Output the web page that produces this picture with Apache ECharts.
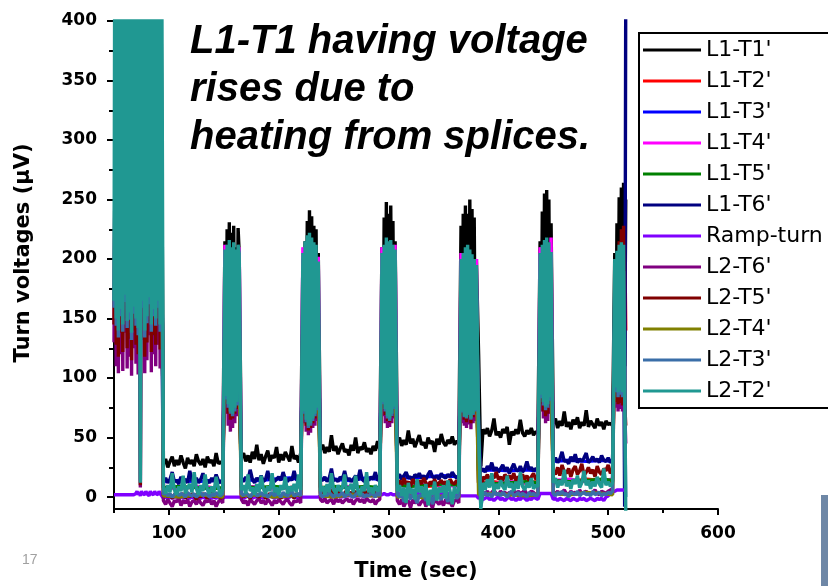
<!DOCTYPE html>
<html>
<head>
<meta charset="utf-8">
<script src="https://cdn.jsdelivr.net/npm/echarts@6/dist/echarts.min.js"></script>
<style>
html, body { margin: 0; padding: 0; background: #fff; }
#main { width: 828px; height: 586px; }
</style>
</head>
<body>
<div id="main"></div>
<script>
// sample times (sec): 1 s inside the ramp bursts, 2 s on the flat parts
const time = [
  50,51,52,53,54,55,56,57,58,59,60,61,62,63,64,65,66,67,68,69,70,71,72,73,74,75,76,77,78,79,80,81,82,83,84,85,86,87,88,89,90,91,92,93,
  95,97,99,101,103,105,107,109,111,113,115,117,119,121,123,125,127,129,131,133,135,137,139,141,143,145,147,149,
  151,152,153,154,155,156,157,158,159,160,161,162,163,164,
  166,168,170,172,174,176,178,180,182,184,186,188,190,192,194,196,198,200,202,204,206,208,210,212,214,216,218,220,
  222,223,224,225,226,227,228,229,230,231,232,233,234,235,236,
  238,240,242,244,246,248,250,252,254,256,258,260,262,264,266,268,270,272,274,276,278,280,282,284,286,288,290,292,
  294,295,296,297,298,299,300,301,302,303,304,305,306,
  308,310,312,314,316,318,320,322,324,326,328,330,332,334,336,338,340,342,344,346,348,350,352,354,356,358,360,362,364,
  366,367,368,369,370,371,372,373,374,375,376,377,378,379,380,
  382,384,386,388,390,392,394,396,398,400,402,404,406,408,410,412,414,416,418,420,422,424,426,428,430,432,434,436,
  438,439,440,441,442,443,444,445,446,447,448,
  450,452,454,456,458,460,462,464,466,468,470,472,474,476,478,480,482,484,486,488,490,492,494,496,498,500,502,504,
  506,507,508,509,510,511,512,513,514,515,516
];

// L1-T1'
const l1t1 = [
  300,300,300,300,300,300,300,300,300,300,300,300,300,300,300,300,300,300,300,300,300,300,300,300,300,300,300,300,300,300,300,300,300,300,300,300,300,300,300,300,300,300,380,400,
  28,32,25,30,34,26,31,27,35,29,24,33,28,31,26,36,30,27,32,25,34,29,31,26,37,28,30,27,
  215,100,225,95,231,100,222,95,228,100,210,95,226,205,
  33,37,30,35,29,38,32,44,31,36,28,34,39,30,35,33,42,29,36,31,38,34,30,43,32,35,29,37,
  200,110,215,105,232,110,241,100,236,105,228,110,225,105,205,
  40,44,37,42,38,52,39,43,36,41,45,38,40,35,44,39,50,37,42,40,46,38,41,36,43,39,47,40,
  210,105,235,100,248,110,238,100,245,105,232,100,215,
  46,50,43,48,44,56,45,49,42,47,52,44,46,41,50,45,47,38,49,44,53,46,43,48,45,51,44,47,46,
  228,110,238,105,245,110,238,100,250,105,242,110,235,105,200,
  120,26,57,53,58,51,56,66,52,55,50,57,54,59,44,55,52,57,53,65,54,51,56,53,58,52,55,54,
  215,110,240,105,255,110,258,100,250,110,230,
  62,66,58,64,60,72,59,63,57,65,61,67,58,63,60,73,59,64,61,58,66,60,63,57,64,61,62,60,
  205,110,230,105,252,110,260,100,264,110,250
];

// L1-T6'
const l1t6 = [
  280,280,280,280,280,280,280,280,280,280,280,280,280,280,280,280,280,280,280,280,280,280,280,280,280,280,280,280,280,280,280,280,280,280,280,280,280,280,280,280,280,280,280,280,
  13,16,12,15,21,13,14,11,17,13,15,12,22,14,13,16,12,15,20,13,14,12,16,13,19,14,12,15,
  150,150,150,150,150,150,150,150,150,150,150,150,150,150,
  15,13,17,14,23,15,12,16,14,18,13,15,22,14,16,13,15,17,14,21,15,13,16,14,22,15,13,16,
  150,150,150,150,150,150,150,150,150,150,150,150,150,150,150,
  15,14,17,13,16,24,14,15,13,17,15,22,14,16,13,15,18,14,23,15,13,16,14,17,15,21,14,15,
  150,150,150,150,150,150,150,150,150,150,150,150,150,
  17,19,15,18,21,16,17,14,19,17,20,16,18,15,19,22,17,16,18,15,20,17,16,19,17,21,18,16,17,
  150,150,150,150,150,150,150,150,150,150,150,150,150,150,150,
  60,22,24,21,26,23,29,22,25,21,24,27,22,25,20,24,28,23,22,26,21,24,30,23,25,22,24,23,
  150,150,150,150,150,150,150,150,150,150,150,
  30,33,29,32,38,30,31,28,34,30,36,29,32,30,33,37,29,31,34,30,32,29,35,31,30,33,29,31,
  150,150,150,150,150,150,150,150,150,-8,430
];

// Ramp-turn
const rampTurn = [
  2,2,2,2,2,2,2,2,2,2,2,2,2,2,2,2,2,2,2,2,3,5,2,4,1,5,3,4,2,5,3,4,1,5,3,4,2,5,3,4,2,5,3,2,
  -1,0,-1,0,-1,0,0,-1,0,-1,0,0,-1,0,-1,0,0,-1,0,-1,0,0,-1,0,-1,0,0,-1,
  0,0,0,0,0,0,0,0,0,0,0,0,0,0,
  0,-1,0,1,0,-1,0,0,1,0,-1,0,0,1,0,-1,0,0,1,0,0,-1,0,1,0,0,-1,0,
  0,1,0,1,0,1,0,1,0,1,0,1,0,1,0,
  1,0,1,2,1,0,1,1,2,1,0,1,2,1,1,0,1,2,1,1,0,1,2,1,1,2,1,2,
  2,2,3,2,2,3,2,2,3,2,2,3,2,
  2,3,1,3,2,4,1,3,2,4,2,3,1,4,2,3,1,4,2,3,2,4,1,3,2,3,1,2,2,
  1,2,1,2,1,2,1,2,1,2,1,2,1,2,1,
  -1,0,-2,-1,0,-2,-1,-3,-1,0,-2,-1,-3,-1,0,-2,-1,-3,-1,-2,0,-1,-3,-1,-2,0,-1,-2,
  3,4,3,4,3,4,3,4,3,4,3,
  -2,-1,-3,-1,-2,-3,-1,-2,-3,-1,-2,-3,-1,-2,-1,-3,-2,-1,-2,-3,-1,-2,-1,-3,0,1,3,4,
  5,5,6,5,6,5,6,5,6,5,6
];

// L2-T6'
const l2t6 = [
  130,300,110,300,104,300,120,300,106,300,138,300,108,300,118,300,102,300,125,300,112,300,103,300,8,300,132,300,104,300,115,300,136,300,105,300,120,300,110,300,128,300,108,300,
  -3,-6,-2,-5,-8,-3,-4,-1,-7,-3,-5,-2,-8,-4,-3,-6,-2,-5,-7,-3,-4,-2,-6,-3,-8,-4,-2,-5,
  150,70,160,60,170,55,165,58,170,62,160,68,165,150,
  -2,-5,-3,-7,-2,-4,-6,-3,-1,-5,-3,-6,-2,-4,-7,-3,-5,-2,-4,-6,-3,-2,-5,-7,-3,-4,-2,-5,
  150,62,160,55,165,52,170,54,165,58,160,60,160,64,150,
  -2,-4,-1,-5,-3,-2,-6,-1,-4,-2,-5,-3,-1,-4,-2,-6,-3,-1,-4,-2,-5,-1,-3,-4,-2,-6,-3,-2,
  150,68,160,62,165,58,170,59,165,62,160,66,150,
  -3,-6,-2,-8,-4,-3,-9,-2,-5,-3,-7,-4,-2,-8,-3,-5,-9,-2,-4,-6,-3,-7,-2,-5,-4,-8,-3,-2,-5,
  150,62,160,60,165,58,170,61,165,57,160,62,160,64,150,
  40,-6,4,3,5,2,4,6,3,2,5,3,4,2,4,3,6,2,5,3,4,6,2,3,5,4,2,3,
  150,72,160,66,165,62,165,64,160,70,150,
  4,3,5,2,4,6,3,2,5,3,4,2,6,3,4,5,2,3,4,6,3,2,5,4,3,5,6,7,
  150,75,160,72,165,74,165,72,160,75,45
];

// L2-T5'
const l2t5 = [
  145,300,128,300,118,300,138,300,122,300,150,300,125,300,133,300,115,300,140,300,128,300,120,300,10,300,146,300,118,300,130,300,148,300,122,300,136,300,128,300,145,300,124,300,
  1,3,0,2,-1,2,4,0,1,3,-1,2,0,3,1,-2,2,0,3,1,-1,2,4,0,1,2,-1,1,
  160,78,170,70,175,65,170,66,175,70,170,74,170,160,
  2,0,3,1,-1,2,4,1,0,3,2,-1,1,3,0,2,4,1,-1,2,0,3,1,2,-1,3,1,2,
  160,68,170,60,175,56,180,58,175,62,170,66,170,70,160,
  3,5,2,4,1,6,3,2,5,4,1,3,6,2,4,3,5,1,4,2,6,3,2,5,3,4,2,3,
  160,75,170,69,175,64,180,63,175,67,170,72,160,
  12,14,10,16,11,13,9,15,12,10,14,11,16,12,9,13,11,15,10,12,14,11,13,10,15,12,11,14,12,
  160,68,170,65,175,63,180,66,175,62,170,67,170,70,160,
  50,5,17,15,19,14,18,16,21,15,17,14,19,16,18,15,20,14,17,16,19,15,18,14,17,20,15,17,
  160,78,170,72,175,68,175,70,170,76,160,
  22,19,25,18,27,21,20,24,17,23,26,19,22,28,18,21,25,20,23,17,26,21,19,24,22,27,20,23,
  170,80,200,78,215,79,225,77,228,80,60
];

// L2-T3'
const l2t3 = [
  159,300,144,300,134,300,152,300,139,300,164,300,142,300,149,300,132,300,154,300,144,300,136,300,14,300,159,300,134,300,146,300,162,300,139,300,152,300,144,300,159,300,139,300,
  2,4,1,3,0,2,5,1,3,2,0,4,2,1,3,0,2,4,1,3,2,0,3,1,4,2,1,3,
  170,82,180,75,185,70,180,68,185,72,180,77,180,170,
  3,1,4,2,0,3,5,1,2,4,1,3,0,2,4,1,3,2,0,4,2,1,3,5,1,2,3,1,
  170,70,180,63,185,58,190,60,185,64,180,68,180,73,170,
  2,0,3,1,4,2,0,3,1,2,4,0,2,3,1,0,2,4,1,3,0,2,1,3,2,0,4,1,
  170,78,180,72,185,66,190,64,185,68,180,74,170,
  2,0,3,-4,1,2,-2,3,0,-5,2,1,3,-3,0,2,-6,1,3,0,-2,2,1,-4,3,0,2,-1,1,
  170,71,180,67,185,66,190,69,185,65,180,69,180,72,170,
  55,-8,2,4,1,3,0,5,2,3,1,4,2,0,3,5,1,2,4,1,3,2,0,4,2,3,1,2,
  170,83,180,77,185,73,185,75,180,81,170,
  3,1,4,2,5,2,3,0,4,3,2,5,1,3,4,2,3,1,5,2,3,4,1,3,2,4,3,5,
  180,88,190,84,195,86,195,84,190,88,0
];

// L2-T2'
const l2t2 = [
  165,600,150,600,140,600,158,600,145,600,170,600,148,600,155,600,138,600,160,600,150,600,142,600,12,600,165,600,140,600,152,600,168,600,145,600,158,600,150,600,165,600,145,600,
  8,3,10,4,20,6,2,9,5,18,3,8,11,4,21,7,2,10,5,19,6,3,9,4,17,8,2,6,
  208,85,212,78,216,72,210,70,214,75,208,80,212,205,
  6,10,3,19,5,8,2,11,4,18,7,3,9,5,20,4,8,2,10,6,17,3,9,5,11,4,19,6,
  205,72,215,65,220,60,222,62,218,66,214,70,212,75,198,
  5,9,2,11,4,20,6,3,10,5,8,19,3,7,11,4,18,6,2,9,5,21,4,8,3,10,5,7,
  205,80,212,74,218,68,215,66,216,70,212,76,208,
  5,10,1,8,-5,12,3,7,-2,15,4,9,0,11,-7,6,2,13,-3,8,4,10,-1,14,5,-6,9,3,7,
  200,72,205,68,210,67,212,70,208,66,204,70,200,73,195,
  60,-10,12,6,15,8,20,5,11,7,14,9,6,18,8,12,5,13,7,21,9,6,12,8,16,7,10,9,
  205,86,212,80,216,76,218,78,214,84,206,
  12,16,8,14,10,23,9,13,7,15,11,18,8,12,22,10,14,7,13,9,17,11,8,24,10,13,9,12,
  200,92,207,88,212,90,214,88,212,92,-12
];

// coarser samples for the traces that stay mostly hidden under the others
const timeCoarse = [
  50,93, 95,110,125,140,149, 151,152,163,164, 166,180,195,210,220, 222,223,235,236,
  238,250,265,280,292, 294,295,305,306, 308,320,335,350,364, 366,367,379,380,
  382,395,410,425,436, 438,439,447,448, 450,465,480,495,504, 506,507,515,516
];
const l1t2 = [300,300, 8,7,9,8,7, 150,150,150,150, 8,9,7,8,9, 150,150,150,150, 8,7,9,8,7, 150,150,150,150, 10,11,9,10,11, 150,150,150,150, 12,13,11,12,13, 150,150,150,150, 14,13,15,14,13, 150,150,225,140];
const l1t3 = [300,300, 13,14,13,14,13, 150,150,150,150, 15,14,15,16,15, 150,150,150,150, 15,15,14,16,15, 150,150,150,150, 17,16,17,18,17, 150,150,150,150, 22,23,22,23,22, 150,150,150,150, 30,31,30,31,30, 150,150,150,150];
const l1t4 = [300,300, 8,7,9,8,7, 212,150,150,210, 8,9,7,8,9, 210,150,150,202, 8,7,9,8,7, 210,150,150,212, 10,9,11,10,9, 205,150,150,200, 12,11,13,12,11, 210,150,150,218, 14,15,13,14,15, 150,150,150,150];
const l1t5 = [300,300, 8,9,8,7,8, 150,150,150,150, 9,8,9,8,9, 150,150,150,150, 8,9,8,9,8, 150,150,150,150, 10,9,10,11,10, 150,150,150,150, 12,11,12,13,12, 150,150,150,150, 14,13,14,15,14, 150,150,150,150];
const l2t4 = [300,300, 1,0,2,1,0, 150,150,150,150, 1,2,0,1,2, 150,150,150,150, 1,0,2,1,1, 150,150,150,150, 0,1,-1,1,0, 150,150,150,150, 2,3,2,1,2, 150,150,150,150, 3,2,4,3,2, 150,150,150,150];

const xMajor = [100, 200, 300, 400, 500, 600];
const xMinor = [50, 150, 250, 350, 450, 550];
const yMajor = [0, 50, 100, 150, 200, 250, 300, 350, 400];
const yMinor = [25, 75, 125, 175, 225, 275, 325, 375];

const traces = [
  ["L1-T1'", '#000000', time, l1t1],
  ["L1-T2'", '#ff0000', timeCoarse, l1t2],
  ["L1-T3'", '#0000ff', timeCoarse, l1t3],
  ["L1-T4'", '#ff00ff', timeCoarse, l1t4],
  ["L1-T5'", '#008000', timeCoarse, l1t5],
  ["L1-T6'", '#000080', time, l1t6],
  ['Ramp-turn', '#8000ff', time, rampTurn],
  ["L2-T6'", '#800080', time, l2t6],
  ["L2-T5'", '#800000', time, l2t5],
  ["L2-T4'", '#808000', timeCoarse, l2t4],
  ["L2-T3'", '#3a6ea8', time, l2t3],
  ["L2-T2'", '#209892', time, l2t2]
];
traces.forEach(t => {
  if (t[2].length !== t[3].length) throw new Error(t[0] + ': ' + t[2].length + ' times vs ' + t[3].length + ' values');
});

const axisFont = { fontFamily: 'DejaVu Sans', fontWeight: 'bold', color: '#000' };
const black2 = { color: '#000', width: 2 };

const chart = echarts.init(document.getElementById('main'));
chart.setOption({
  animation: false,
  backgroundColor: '#fff',
  grid: { left: 114, right: 110, top: 21, bottom: 77, outerBoundsMode: 'none', containLabel: false },
  title: {
    text: 'L1-T1 having voltage\nrises due to\nheating from splices.',
    left: 190, top: 18, padding: 0,
    textStyle: { fontFamily: 'Liberation Sans', fontStyle: 'italic', fontWeight: 'bold', fontSize: 40, lineHeight: 48, color: '#000' }
  },
  legend: {
    orient: 'vertical',
    left: 639, top: 33,
    padding: [6, 40, 6, 4],
    itemGap: 9,
    itemWidth: 58, itemHeight: 3,
    icon: 'rect',
    selectedMode: false,
    borderColor: '#000', borderWidth: 2,
    backgroundColor: '#fff',
    textStyle: { fontFamily: 'DejaVu Sans', fontSize: 22, lineHeight: 22, color: '#000' },
    data: traces.map(t => t[0])
  },
  xAxis: [{
    type: 'value', min: 50, max: 600, position: 'bottom',
    axisLine: { show: true, onZero: false, lineStyle: black2 },
    axisTick: { show: true, customValues: xMajor, length: 6, lineStyle: black2 },
    axisLabel: Object.assign({ customValues: xMajor, margin: 16, fontSize: 17 }, axisFont),
    splitLine: { show: false },
    name: 'Time (sec)', nameLocation: 'middle', nameGap: 52,
    nameTextStyle: Object.assign({ fontSize: 21 }, axisFont)
  }, {
    type: 'value', min: 50, max: 600, position: 'bottom',
    axisLine: { show: false, onZero: false },
    axisTick: { show: true, customValues: xMinor, length: 4, lineStyle: black2 },
    axisLabel: { show: false },
    splitLine: { show: false }
  }],
  yAxis: [{
    type: 'value', min: -10, max: 400, position: 'left',
    axisLine: { show: true, onZero: false, lineStyle: black2 },
    axisTick: { show: true, customValues: yMajor, length: 7, lineStyle: black2 },
    axisLabel: Object.assign({ customValues: yMajor, margin: 17, fontSize: 17 }, axisFont),
    splitLine: { show: false }
  }, {
    type: 'value', min: -10, max: 400, position: 'left',
    axisLine: { show: false, onZero: false },
    axisTick: { show: true, customValues: yMinor, length: 5, lineStyle: black2 },
    axisLabel: { show: false },
    splitLine: { show: false }
  }],
  graphic: [
    {
      type: 'text', x: 24, y: 253, rotation: Math.PI / 2,
      style: { text: 'Turn voltages (μV)', font: 'bold 21px "DejaVu Sans"', fill: '#000',
        align: 'center', verticalAlign: 'middle', textAlign: 'center', textVerticalAlign: 'middle' }
    },
    {
      type: 'text', left: 22, top: 553,
      style: { text: '17', font: '14px "Liberation Sans"', fill: '#a0a0a0' }
    },
    {
      type: 'rect', left: 821, top: 495,
      shape: { width: 7, height: 91 },
      style: { fill: '#6e87a6' }
    }
  ],
  series: traces.map(t => ({
    name: t[0],
    type: 'line',
    xAxisIndex: 0, yAxisIndex: 0,
    data: t[2].map((x, i) => [x, t[3][i]]),
    showSymbol: false, symbol: 'none',
    silent: true,
    itemStyle: { color: t[1] },
    lineStyle: { color: t[1], width: 3.4 }
  }))
});
</script>
</body>
</html>
